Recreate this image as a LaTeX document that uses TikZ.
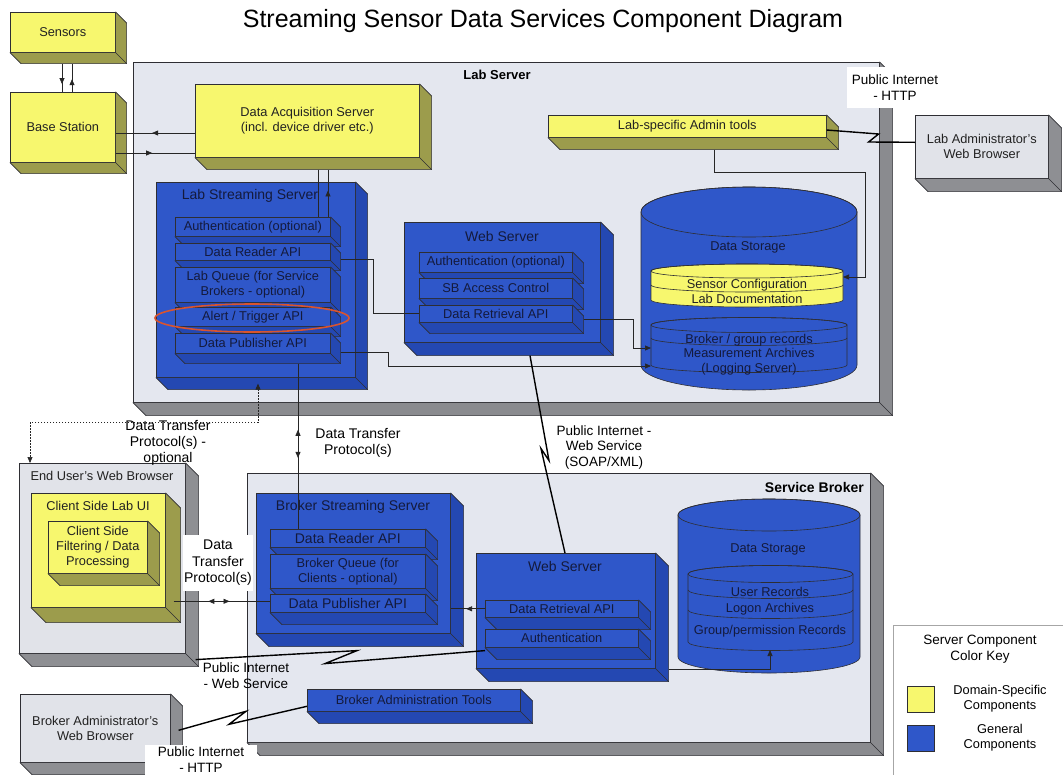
\documentclass[tikz,border=0pt]{standalone}
\usepackage{fontspec}
\setmainfont{Liberation Sans}
\usetikzlibrary{arrows.meta,calc,decorations.markings}

\definecolor{yelF}{HTML}{F7F76E}
\definecolor{yelS}{HTML}{9C9C4C}
\definecolor{yelT}{HTML}{222222}
\definecolor{bluF}{HTML}{2F57C9}
\definecolor{bluS}{HTML}{2448B2}
\definecolor{bluT}{HTML}{141A3C}
\definecolor{gryF}{HTML}{E1E3E9}
\definecolor{gryS}{HTML}{8E8F93}
\definecolor{gryT}{HTML}{222222}
\definecolor{conF}{HTML}{E4E7EF}
\definecolor{conS}{HTML}{8A8B8F}
\definecolor{conT}{HTML}{222222}
\definecolor{edge}{HTML}{2E2E33}
\definecolor{redc}{HTML}{D9542F}

\newcommand\fsz[2]{\fontsize{#1}{#2}\selectfont}

% 3D box: name, x1, y1, x2, y2, depth, kind, text
\newcommand\tdbox[8]{%
  \node[boxfront, fill=#7F, text=#7T, minimum width={(#4-#2)*1pt}, minimum height={(#5-#3)*1pt}] (#1) at (#2,#3) {#8};
  \filldraw[fill=#7S, draw=edge, line width=0.6pt, line join=round]
    (#1.north east) -- ++(#6,#6) -- ($(#1.south east)+(#6,#6)$) -- ($(#1.south west)+(#6,#6)$) -- (#1.south west) -- (#1.south east) -- cycle;
  \draw[edge, line width=0.6pt] (#1.south east) -- ++(#6,#6);
}
% cylinder body: cx, rx, ytop, ybot, ry, fill
\newcommand\cylbody[6]{%
  \filldraw[fill=#6, draw=edge, line width=0.6pt] (#1-#2,#3) -- (#1-#2,#4)
    arc[start angle=180, end angle=360, x radius=#2pt, y radius=#5pt] -- (#1+#2,#3)
    arc[start angle=0, end angle=180, x radius=#2pt, y radius=#5pt] -- cycle;
  \draw[edge, line width=0.6pt] (#1,#3) ellipse[x radius=#2pt, y radius=#5pt];
}
\newcommand\cylsep[4]{%
  \draw[edge, line width=0.6pt] (#1-#2,#3) arc[start angle=180, end angle=360, x radius=#2pt, y radius=#4pt];
}

\tikzset{
  boxfront/.style={draw=edge, line width=0.6pt, anchor=north west, inner sep=0pt, align=center},
  conn/.style={draw=black!85, line width=0.7pt},
  bolt/.style={draw=black, line width=1.4pt, line join=miter},
  midfwd/.style={postaction={decorate, decoration={markings, mark=at position #1 with {\arrow{Triangle[length=6pt,width=5pt]}}}}},
  midback/.style={postaction={decorate, decoration={markings, mark=at position #1 with {\arrowreversed{Triangle[length=6pt,width=5pt]}}}}},
  endtip/.style={-{Triangle[length=6pt,width=5pt]}},
}

\begin{document}
\begin{tikzpicture}[x=1pt, y=-1pt, every node/.style={font=\fsz{12.8}{15}, inner sep=0pt, align=center}]
\fill[white] (0,0) rectangle (1063,774);
\useasboundingbox (0,0) rectangle (1063,774);

\node[font=\fsz{25}{30}] (title) at (543,21) {Streaming Sensor Data Services Component Diagram};

% ---------- Lab Server ----------
\tdbox{labsrv}{133}{62}{879}{402}{13}{con}{}
\node[font=\bfseries\fsz{13}{15}] (labsrv-t) at (497,75) {Lab Server};
\node[fill=white, minimum width=96pt, minimum height=41pt, font=\fsz{13.5}{16}] (pihttp1) at (895,87.5) {Public Internet\\- HTTP};

\tdbox{sensors}{10}{12}{115}{52}{11}{yel}{Sensors}
\tdbox{base}{10}{92}{115}{162}{11}{yel}{Base Station}

\tdbox{daq}{195}{84}{419}{157}{12}{yel}{Data Acquisition Server\\(incl. device driver etc.)}
\tdbox{admin}{548}{115}{826}{137}{12}{yel}{Lab-specific Admin tools}
\tdbox{labadm}{915}{115}{1048}{178}{13}{gry}{Lab Administrator's\\Web Browser}

% Lab streaming server
\tdbox{lss}{156}{182}{355}{377}{12}{blu}{}
\node[text=bluT, font=\fsz{14}{16}] (lss-t) at (250,196) {Lab Streaming Server};
\tdbox{auth1}{175}{217}{330}{236}{10}{blu}{Authentication (optional)}
\tdbox{reader1}{175}{243}{330}{260}{10}{blu}{Data Reader API}
\tdbox{queue1}{175}{267}{330}{302}{10}{blu}{Lab Queue (for Service\\Brokers - optional)}
\tdbox{alert}{175}{307}{330}{326}{10}{blu}{Alert / Trigger API}
\tdbox{pub1}{175}{333}{330}{353}{10}{blu}{Data Publisher API}
\draw[redc, line width=1.6pt] (252,318) ellipse[x radius=97pt, y radius=14pt];

% Lab web server
\tdbox{ws1}{404}{222}{600}{342}{13}{blu}{}
\node[text=bluT, font=\fsz{14}{16}] (ws1-t) at (502,236) {Web Server};
\tdbox{auth2}{419}{252}{572}{272}{11}{blu}{Authentication (optional)}
\tdbox{sbac}{419}{278}{572}{298}{11}{blu}{SB Access Control}
\tdbox{ret1}{419}{305}{572}{322}{11}{blu}{Data Retrieval API}

% Lab storage
\cylbody{749}{108}{212}{365}{25}{bluF}
\node[text=bluT] (ls-t) at (748,247) {Data Storage};
\cylbody{747}{96}{271}{300}{7}{yelF}
\cylsep{747}{96}{285}{7}
\node[text=yelT] (ls-y1) at (747,285) {Sensor Configuration};
\node[text=yelT] (ls-y2) at (747,299) {Lab Documentation};
\cylbody{749}{98}{325}{365}{7.5}{bluF}
\cylsep{749}{98}{338}{7.5}
\node[text=bluT, font=\fsz{12.8}{14.5}] (ls-b) at (749,354.5) {Broker / group records\\Measurement Archives\\(Logging Server)};
\coordinate (lsyel) at (843,277);
\coordinate (lsin1) at (651,348);
\coordinate (lsin2) at (651,366);

% ---------- Service Broker ----------
\tdbox{sb}{247}{473}{870}{742}{13}{con}{}
\node[font=\bfseries\fsz{14}{16}, anchor=east] (sb-t) at (864,487) {Service Broker};

\tdbox{bss}{256}{493}{450}{633}{13}{blu}{}
\node[text=bluT, font=\fsz{14}{16}] (bss-t) at (353,507) {Broker Streaming Server};
\tdbox{reader2}{270}{529}{425}{547}{12}{blu}{\fsz{14}{16}Data Reader API}
\tdbox{queue2}{270}{554}{425}{588}{12}{blu}{Broker Queue (for\\Clients - optional)}
\tdbox{pub2}{270}{594}{425}{612}{12}{blu}{\fsz{14}{16}Data Publisher API}

\tdbox{ws2}{476}{553}{655}{668}{13}{blu}{}
\node[text=bluT, font=\fsz{14}{16}] (ws2-t) at (565,566) {Web Server};
\tdbox{ret2}{485}{600}{638}{617}{12}{blu}{Data Retrieval API}
\tdbox{auth3}{485}{629}{638}{647}{12}{blu}{Authentication}

\cylbody{769}{91}{515}{657}{16}{bluF}
\node[text=bluT] (bs-t) at (768,549) {Data Storage};
\cylbody{770.5}{82.5}{574}{642}{8.5}{bluF}
\cylsep{770.5}{82.5}{590}{8.5}
\cylsep{770.5}{82.5}{610}{8.5}
\node[text=bluT] (bs-1) at (770,592) {User Records};
\node[text=bluT] (bs-2) at (770,609) {Logon Archives};
\node[text=bluT] (bs-3) at (770,631) {Group/permission Records};
\coordinate (bsin) at (770,650);

\tdbox{bat}{307}{689}{520}{711}{12}{blu}{Broker Administration Tools}

% ---------- Browsers ----------
\tdbox{eub}{19}{463}{185}{653}{13}{gry}{}
\node[text=gryT] (eub-t) at (102,476) {End User's Web Browser};
\tdbox{clui}{31}{493}{165}{607}{15}{yel}{}
\node[text=yelT] (clui-t) at (98,506) {Client Side Lab UI};
\tdbox{clf}{48}{521}{147}{573}{12}{yel}{Client Side\\Filtering / Data\\Processing}
\tdbox{bab}{20}{694}{170}{762}{12}{gry}{Broker Administrator's\\Web Browser}

% ---------- Colour key ----------
\node[draw=gray!70, fill=white, anchor=north west, minimum width=175pt, minimum height=155pt, line width=0.8pt] (key) at (893,625) {};
\node[font=\fsz{13.5}{16}] (key-t) at (980,649) {Server Component\\Color Key};
\node[draw=edge, fill=yelF, anchor=north west, minimum width=27pt, minimum height=26pt] (key-y) at (907,686) {};
\node[draw=edge, fill=bluF, anchor=north west, minimum width=27pt, minimum height=26pt] (key-b) at (907,725) {};
\node (key-yt) at (1000,699) {Domain-Specific\\Components};
\node (key-bt) at (1000,738) {General\\Components};

% ---------- Connectors ----------
\draw[conn, midfwd=0.72] ([xshift=52pt,yshift=-11pt]sensors.south west) -- ([xshift=52pt]base.north west);
\draw[conn, midfwd=0.45] ([xshift=62pt]base.north west) -- ([xshift=62pt,yshift=-11pt]sensors.south west);
\draw[conn, midfwd=0.54] ([yshift=-49pt]daq.north west) -- ([yshift=-41pt]base.north east);
\draw[conn, midfwd=0.46] ([yshift=-61pt]base.north east) -- ([yshift=-69pt]daq.north west);

\draw[conn] ([xshift=123pt,yshift=-12pt]daq.south west) -- ([xshift=143pt]auth1.north west);
\draw[conn, midfwd=0.56] ([xshift=153pt]auth1.north west) -- ([xshift=133pt,yshift=-12pt]daq.south west);

\draw[conn] ([xshift=10pt,yshift=-8pt]reader1.east) -- ++(33,0) |- (ret1.west);
\draw[conn, endtip] ([xshift=11pt,yshift=-6pt]ret1.east) -- ++(50,0) |- (lsin1);
\draw[conn, endtip] ([xshift=10pt,yshift=-9pt]pub1.east) -- ++(48,0) |- (lsin2);
\draw[conn, endtip] ([xshift=166pt,yshift=-12pt]admin.south west) -- ++(0,23) -- ++(151,0) |- (lsyel);

\draw[bolt] ([yshift=-15pt]admin.north east) -- ++(52,4) -- ++(-10,8) -- ([yshift=4.5pt]labadm.west);
\draw[bolt] ([xshift=126pt,yshift=-13pt]ws1.south west) -- ++(19,105) -- ++(-8,-12) -- ([xshift=89pt]ws2.north west);

\draw[conn, midback=0.40, midfwd=0.57] ([xshift=123pt,yshift=-10pt]pub1.south west) -- ([xshift=28pt]reader2.north west);
\draw[conn, dash pattern=on 1.5pt off 1.5pt, {Triangle[length=6pt,width=5pt]}-{Triangle[length=6pt,width=5pt]}] ([xshift=102pt,yshift=-6pt]lss.south west) -- ++(0,39) -| ([xshift=11pt]eub.north west);

\draw[conn, midback=0.36, midfwd=0.58] ([xshift=8pt,yshift=-51pt]clui.east) -- ([yshift=2pt]pub2.west);
\draw[conn, midfwd=0.55] (ret2.west) -- ([xshift=25pt,yshift=-5.5pt]pub2.east);
\draw[conn, endtip] ([xshift=13pt,yshift=-1pt]ws2.south east) -| (bsin);

\draw[bolt] ([yshift=-3pt]auth3.south west) -- ++(-160,13) -- ++(32,-13) -- ([xshift=10pt,yshift=-6pt]eub.south east);
\draw[bolt] ([yshift=-6pt]bat.west) -- ++(-78,18) -- ++(17,-13) -- ([xshift=8pt,yshift=-2pt]bab.east);

% ---------- Labels ----------
\node[font=\fsz{14}{16}] (dtp1) at (168,443) {Data Transfer\\Protocol(s) -\\optional};
\node[font=\fsz{14}{16}] (dtp2) at (358,443) {Data Transfer\\Protocol(s)};
\node[font=\fsz{13.5}{15.5}] (soap) at (604,447) {Public Internet -\\Web Service\\(SOAP/XML)};
\node[fill=white, minimum width=70pt, minimum height=56pt, font=\fsz{14}{16.5}] (dtp3) at (218,563) {Data\\Transfer\\Protocol(s)};
\node[font=\fsz{13.5}{16}] (piws) at (246,676) {Public Internet\\- Web Service};
\node[fill=white, minimum width=112pt, minimum height=30pt, font=\fsz{13.5}{16}] (pihttp2) at (201,760) {Public Internet\\- HTTP};
\end{tikzpicture}
\end{document}
